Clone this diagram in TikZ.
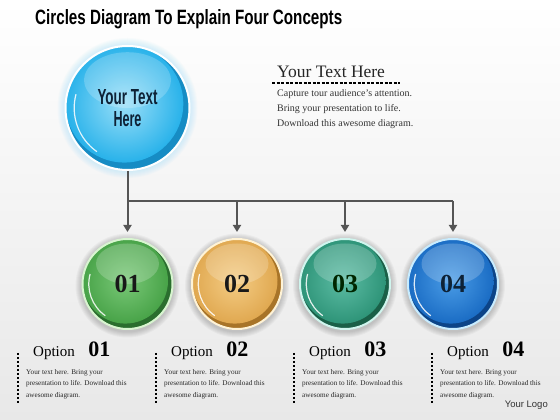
\documentclass[tikz,border=0pt]{standalone}
\usepackage{fontspec}
\usepackage{graphicx}
\setmainfont{Liberation Serif}
\newfontfamily\sansf{Liberation Sans}
\usetikzlibrary{calc,arrows.meta}
\definecolor{linec}{HTML}{555555}
\definecolor{bluL}{HTML}{9ADFF8}
\definecolor{bluM}{HTML}{28B2EA}
\definecolor{bluD}{HTML}{168CC4}
\definecolor{grnL}{HTML}{79C877}
\definecolor{grnM}{HTML}{48A348}
\definecolor{grnD}{HTML}{2A6E2E}
\definecolor{grnR}{HTML}{D8F5D0}
\definecolor{orgL}{HTML}{F4CC84}
\definecolor{orgM}{HTML}{E0A850}
\definecolor{orgD}{HTML}{A87428}
\definecolor{orgR}{HTML}{FFF3D6}
\definecolor{tealL}{HTML}{5CBCA4}
\definecolor{tealM}{HTML}{2E9478}
\definecolor{tealD}{HTML}{1A6048}
\definecolor{tealR}{HTML}{D0F5EE}
\definecolor{dbL}{HTML}{4A9CE6}
\definecolor{dbM}{HTML}{1A6CC4}
\definecolor{dbD}{HTML}{0C4488}
\definecolor{dbR}{HTML}{C8ECFF}
\definecolor{navy}{HTML}{0E2236}
\begin{document}
\begin{tikzpicture}[x=1pt,y=1pt,
  ball/.style n args={5}{circle, inner sep=0pt, minimum size=2*#1, fill=#4, draw=#5, line width=2pt,
    path picture={
      \path (path picture bounding box.center) coordinate (pc);
      \shade[inner color=#2, outer color=#3] ($(pc)+(-0.05*#1,0.07*#1)$) circle[radius=0.95*#1];
      \fill[white, opacity=0.2] ($(pc)+(0,0.45*#1)$) ellipse[x radius=0.7*#1, y radius=0.45*#1];
      \draw[white, opacity=0.85, line width=1.2pt] ($(pc)+(165:0.86*#1)$) arc[start angle=165, end angle=235, radius=0.86*#1];
    }},
  conn/.style={draw=linec, line width=2pt},
  arr/.style={conn, -{Triangle[width=8pt,length=7pt]}, shorten >=6pt},
  optdash/.style={line width=2pt, dash pattern=on 2.5pt off 1.5pt},
  opthead/.style={anchor=base west, inner sep=0pt},
  optbody/.style={anchor=north west, inner sep=0pt, align=left, text=black!85, font=\fontsize{7.2}{11.5}\selectfont},
  num/.style={font=\fontsize{26}{26}\selectfont\bfseries}
]
\useasboundingbox (0,0) rectangle (560,420);
\shade[top color=white, bottom color=black!9] (0,0) rectangle (560,420);

% title
\node[anchor=base west, inner sep=0pt] (title) at (35,395)
  {\resizebox{307pt}{15pt}{\sansf\bfseries Circles Diagram To Explain Four Concepts}};

% centres
\coordinate (p0) at (127.5,312);
\coordinate (p1) at (127.5,136);
\coordinate (p2) at (237,136);
\coordinate (p3) at (345,136);
\coordinate (p4) at (453,136);

% glows
\foreach \k in {1,...,7} \fill[cyan!40, opacity=0.06] (p0) circle[radius=63+\k];
\foreach \p in {p1,p2,p3,p4}
  \foreach \k in {1,...,6} \fill[black, opacity=0.03] ($(\p)+(0,-1.5)$) circle[radius=46+\k];

% top ball
\node[ball={62}{bluL}{bluM}{bluD}{white}, align=center, text=navy, font=\sansf\bfseries\fontsize{20}{22}\selectfont] (top) at (p0)
  {\resizebox{60pt}{15pt}{Your Text}\\\resizebox{28pt}{15pt}{Here}};

% bottom balls
\node[ball={45}{grnL}{grnM}{grnD}{grnR}, num, text=black!90] (c1) at (p1) {01};
\node[ball={45}{orgL}{orgM}{orgD}{orgR}, num, text=black!90] (c2) at (p2) {02};
\node[ball={45}{tealL}{tealM}{tealD}{tealR}, num, text=black!85!green] (c3) at (p3) {03};
\node[ball={45}{dbL}{dbM}{dbD}{dbR}, num, text=navy] (c4) at (p4) {04};

% connectors
\coordinate (j1) at (127.5,219);
\coordinate (j2) at (237,219);
\coordinate (j3) at (345,219);
\coordinate (j4) at (453,219);
\draw[conn] (top) -- (j1) -- (j4);
\draw[arr] (j1) -- (c1);
\draw[arr] (j2) -- (c2);
\draw[arr] (j3) -- (c3);
\draw[arr] (j4) -- (c4);

% top right text
\node[anchor=base west, inner sep=0pt, font=\fontsize{17.5}{17.5}\selectfont, text=black!85] (th) at (277,342) {Your Text Here};
\draw[line width=1.1pt, dash pattern=on 3pt off 1.5pt] ($(th.base west)+(-5,-5)$) -- ($(th.base west)+(123,-5)$);
\node[anchor=north west, inner sep=0pt, align=left, font=\fontsize{10}{15}\selectfont, text=black!80] (tb) at (277,331)
  {Capture tour audience's attention.\\Bring your presentation to life.\\Download this awesome diagram.};

% option blocks
\foreach \i/\x in {1/18,2/156,3/294,4/432}{
  \draw[optdash] (\x,67) -- (\x,17);
  \node[opthead] (oh\i) at (\x+15,63)
    {{\fontsize{15}{15}\selectfont Option}\hspace{13.5pt}{\fontsize{22}{22}\selectfont\bfseries 0\i}};
  \node[optbody] (ob\i) at (\x+8,51)
    {Your text here. Bring your\\presentation to life. Download this\\awesome diagram.};
}

% logo
\node[anchor=base east, inner sep=0pt, font=\sansf\fontsize{9.5}{9.5}\selectfont, text=black!80] (logo) at (548,12) {Your Logo};
\end{tikzpicture}
\end{document}
